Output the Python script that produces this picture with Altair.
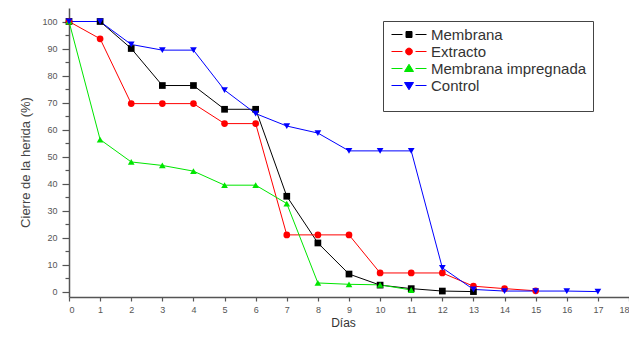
import altair as alt
import pandas as pd

series = ["Membrana", "Extracto", "Membrana impregnada", "Control"]
colors = ["#000000", "#ff0000", "#00e600", "#0000ff"]
marker_shapes = ["square", "circle", "triangle-up", "triangle-down"]

membrana_days = list(range(0, 14))
membrana = [100, 100, 90, 76.3, 76.3, 67.5, 67.5, 35.3, 18, 6.5, 2.4, 1.1, 0.2, 0]
extracto_days = list(range(0, 16))
extracto = [100, 93.6, 69.6, 69.6, 69.6, 62.2, 62.2, 21, 21, 21, 6.9, 6.9, 6.9, 2, 1.1, 0.3]
impregnada_days = list(range(0, 12))
impregnada = [100, 56.3, 48, 46.7, 44.6, 39.4, 39.4, 32.6, 3.2, 2.7, 2.5, 0.6]
control_days = list(range(0, 18))
control = [100, 100, 91.5, 89.4, 89.4, 74.6, 65.9, 61.3, 58.7, 52.1, 52.1, 52.1, 8.8, 0.8, 0.2, 0.2, 0.2, 0]

x_ticks = list(range(0, 19))
y_ticks = list(range(0, 101, 5))

rows = []
for i, (name, dd, vv) in enumerate(zip(series,
                                      [membrana_days, extracto_days, impregnada_days, control_days],
                                      [membrana, extracto, impregnada, control])):
    for d, v in zip(dd, vv):
        rows.append({"serie": name, "dia": d, "cierre": v, "orden": i})
df = pd.DataFrame(rows)

FONT = "Liberation Sans"

# legend glyphs: line stub, marker, line stub (units of 5 px)
STUBS = "M-1,0H1.2M3.8,0H6"
legend_paths = [
    STUBS + "M1.9,-0.6H3.1V0.6H1.9Z",
    STUBS + "M1.82,0A0.68,0.68,0,1,1,3.18,0A0.68,0.68,0,1,1,1.82,0Z",
    STUBS + "M2.5,-0.85L3.4,0.6L1.6,0.6Z",
    STUBS + "M2.5,0.85L3.4,-0.6L1.6,-0.6Z",
]

x_enc = alt.X("dia:Q", scale=alt.Scale(domain=[0, 18], nice=False, zero=False),
              axis=alt.Axis(values=x_ticks, title="Días", grid=False, tickSize=4,
                            labelFontSize=9, labelColor="#555", labelFont=FONT, labelPadding=4,
                            domainColor="#555", domainWidth=1.5, tickColor="#555", tickWidth=1.2,
                            titleFont=FONT, titleFontSize=12, titleFontWeight="normal",
                            titleColor="#333", titleX=274, titleY=29, titleBaseline="alphabetic"))
y_enc = alt.Y("cierre:Q", scale=alt.Scale(domain=[-2, 105], nice=False, zero=False),
              axis=alt.Axis(values=y_ticks, title="Cierre de la herida (%)", grid=False,
                            tickSize={"condition": {"test": "datum.value % 10 === 0", "value": 7}, "value": 4},
                            labelExpr="datum.value % 10 === 0 ? datum.label : ''",
                            labelFontSize=9, labelColor="#555", labelFont=FONT, labelPadding=5,
                            domainColor="#555", domainWidth=1.5, tickColor="#555", tickWidth=1.2,
                            titleFont=FONT, titleFontSize=13, titleFontWeight="normal",
                            titleColor="#444", titleX=-37, titleY=154, titleBaseline="bottom"))

base = alt.Chart(df)

line_layers = []
point_layers = []
for name, col, shp in zip(series, colors, marker_shapes):
    sub = base.transform_filter(alt.datum.serie == name)
    line_layers.append(
        sub.mark_line(strokeWidth=1, color=col).encode(x=x_enc, y=y_enc, order="dia:Q")
    )
    point_layers.append(
        sub.mark_point(filled=True, size=45, opacity=1, shape=shp, color=col).encode(x=x_enc, y=y_enc)
    )

leg = dict(title="\u00a0" * 78, titleOrient="bottom", titleFontSize=9, titlePadding=2, titleLimit=500,
           orient="none", legendX=314, legendY=13, strokeColor="#444", padding=6,
           symbolSize=100, symbolOpacity=1, symbolStrokeWidth=1,
           labelFont=FONT, labelFontSize=15, labelColor="#333", labelOffset=27, rowPadding=1)

legend_layer = base.mark_point(filled=True, size=1, opacity=0).encode(
    x=x_enc, y=y_enc,
    color=alt.Color("serie:N", scale=alt.Scale(domain=series, range=colors), legend=alt.Legend(**leg)),
    stroke=alt.Stroke("serie:N", scale=alt.Scale(domain=series, range=colors), legend=alt.Legend(**leg)),
    shape=alt.Shape("serie:N", scale=alt.Scale(domain=series, range=legend_paths), legend=alt.Legend(**leg)),
)

chart = alt.layer(*line_layers, *point_layers, legend_layer).properties(
    width=560, height=289,
    autosize=alt.AutoSizeParams(type="none"),
    padding={"left": 61, "top": 0, "right": 0, "bottom": 32},
).configure_view(stroke=None).configure_legend(strokeWidth=1)

chart.save("out.html", embed_options={"renderer": "svg", "actions": False})
